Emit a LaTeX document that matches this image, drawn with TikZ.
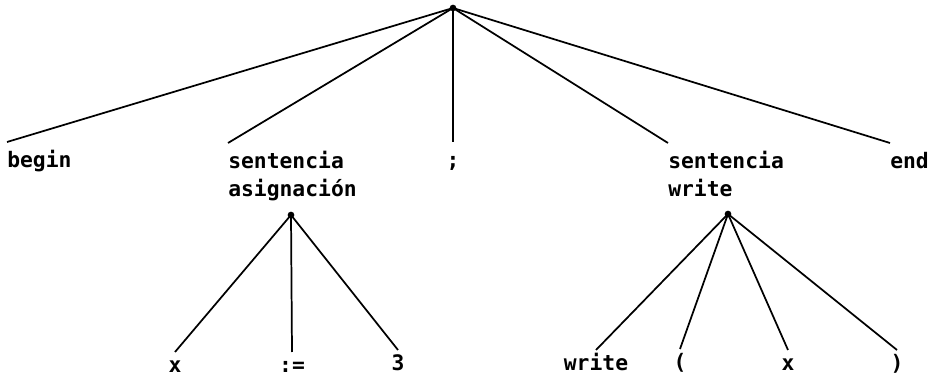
\documentclass[tikz,border=0pt]{standalone}
\usepackage{fontspec}
\setmonofont{DejaVu Sans Mono}
\usepackage{tikz}
\usetikzlibrary{positioning}

\begin{document}
\begin{tikzpicture}[
    x=0.75pt, y=-0.75pt,
    word/.style={
      font=\ttfamily\bfseries\fontsize{16}{21}\selectfont,
      text height=12pt,
      inner xsep=0pt,
      inner ysep=#1,
      align=left
    },
    word/.default=6.75pt,
    twoline/.style={word, text height=33pt},
    leaf/.style={word=3pt, anchor=north},
    dot/.style={
      circle,
      fill=black,
      inner sep=0pt,
      minimum size=5pt
    },
    edge/.style={
      line width=1.3pt
    }
  ]
  \useasboundingbox (0,0) rectangle (940,377);

  % Root
  \node[dot] (root) at (453,8) {};

  % First level
  \node[word, anchor=north west]    (begin) at (7,142)   {begin};
  \node[twoline, anchor=north west] (asig)  at (228,143) {sentencia\\asignación};
  \node[word, anchor=north]         (semi)  at (453,142) {;};
  \node[twoline, anchor=north west] (wrst)  at (668,143) {sentencia\\write};
  \node[word, anchor=north west]    (end)   at (890,143) {end};

  % Inner nodes
  \node[dot] (asigdot) at (291,215) {};
  \node[dot] (wrdot)   at (728,214) {};

  % Leaves
  \node[leaf] (var)   at (175,352) {x};
  \node[leaf] (assg)  at (292,352) {:=};
  \node[leaf] (three) at (398,350) {3};
  \node[leaf] (write) at (596,350) {write};
  \node[leaf] (lpar)  at (680,349) {(};
  \node[leaf] (wvar)  at (788,350) {x};
  \node[leaf] (rpar)  at (897,350) {)};

  % Edges
  \draw[edge] (root.center) -- (begin.north west);
  \draw[edge] (root.center) -- (asig.north west);
  \draw[edge] (root.center) -- (semi.north);
  \draw[edge] (root.center) -- (wrst.north west);
  \draw[edge] (root.center) -- (end.north west);
  \draw[edge] (asigdot.center) -- (var.north);
  \draw[edge] (asigdot.center) -- (assg.north);
  \draw[edge] (asigdot.center) -- (three.north);
  \draw[edge] (wrdot.center) -- (write.north);
  \draw[edge] (wrdot.center) -- (lpar.north);
  \draw[edge] (wrdot.center) -- (wvar.north);
  \draw[edge] (wrdot.center) -- (rpar.north);

\end{tikzpicture}
\end{document}
